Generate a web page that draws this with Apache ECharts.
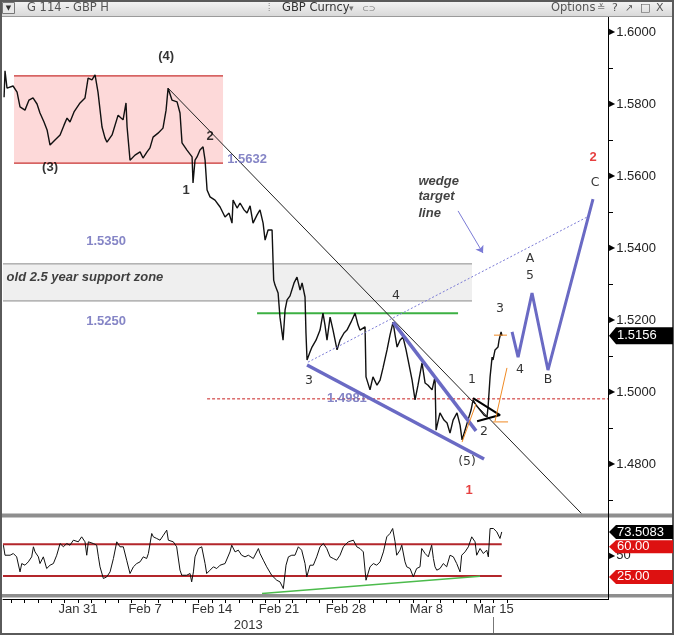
<!DOCTYPE html>
<html><head><meta charset="utf-8">
<script src="https://cdn.jsdelivr.net/npm/echarts@6/dist/echarts.min.js"></script>
<style>html,body{margin:0;padding:0;background:#fff}#c{width:674px;height:636px}</style>
</head><body><div id="c"></div>
<script>
// ---------- DATA (x = trading days from Jan 31, 2013) ----------
const priceDay = [-5.52,-5.45,-5.30,-4.85,-4.55,-4.33,-3.96,-3.66,-3.36,-3.06,
-2.84,-2.54,-2.31,-2.09,-1.72,-1.34,-1.04,-0.82,-0.60,-0.30,
0.15,0.52,0.75,1.04,1.27,1.49,1.79,2.01,2.16,2.54,
2.99,3.21,3.36,3.58,3.66,3.88,4.25,4.63,4.85,5.15,
5.37,5.60,5.97,6.34,6.57,6.72,7.01,7.39,7.61,7.76,
8.13,8.51,8.58,8.73,8.88,9.10,9.33,9.48,9.63,9.85,
10.22,10.60,10.97,11.27,11.49,11.57,11.87,12.09,12.39,12.61,
12.84,13.06,13.36,13.58,13.81,13.96,14.18,14.48,14.55,14.60,
14.70,14.93,15.07,15.30,15.45,15.60,15.82,16.12,16.34,16.57,
16.72,16.94,17.01,17.09,17.31,17.46,17.76,18.06,18.28,18.43,
18.58,18.81,19.03,19.33,19.55,19.85,20.07,20.37,20.67,20.90,
21.04,21.42,21.49,21.79,22.01,22.31,22.54,22.76,23.06,23.28,
23.51,23.66,23.81,24.03,24.25,24.48,24.63,24.93,25.15,25.37,
25.67,25.90,26.12,26.42,26.64,26.72,27.01,27.31,27.54,27.76,
27.99,28.28,28.51,28.66,28.88,29.10,29.33,29.48,29.70,30.00,
30.30,30.52,30.60,30.75,30.90,30.97,31.12,31.34,31.42,31.57,31.64];
const priceVal = [1.5819,1.5892,1.5844,1.5850,1.5833,1.5792,1.5783,1.5811,1.5817,1.5800,
1.5775,1.5750,1.5728,1.5686,1.5700,1.5714,1.5742,1.5761,1.5750,1.5778,
1.5803,1.5817,1.5872,1.5867,1.5881,1.5833,1.5736,1.5706,1.5694,1.5714,
1.5769,1.5761,1.5756,1.5803,1.5736,1.5644,1.5658,1.5667,1.5650,1.5667,
1.5678,1.5708,1.5719,1.5733,1.5783,1.5844,1.5811,1.5806,1.5775,1.5692,
1.5672,1.5653,1.5581,1.5644,1.5653,1.5672,1.5681,1.5644,1.5561,1.5542,
1.5533,1.5514,1.5486,1.5497,1.5469,1.5533,1.5511,1.5525,1.5506,1.5497,
1.5517,1.5469,1.5492,1.5506,1.5469,1.5422,1.5450,1.5450,1.5367,1.5311,
1.5297,1.5275,1.5208,1.5144,1.5228,1.5256,1.5267,1.5303,1.5319,1.5283,
1.5303,1.5264,1.5164,1.5089,1.5111,1.5125,1.5144,1.5172,1.5219,1.5186,
1.5144,1.5208,1.5172,1.5117,1.5144,1.5164,1.5172,1.5194,1.5219,1.5186,
1.5172,1.5181,1.5042,1.5006,1.5042,1.5019,1.5033,1.5067,1.5117,1.5158,
1.5194,1.5158,1.5125,1.5144,1.5153,1.5117,1.5089,1.5033,1.4978,1.5019,
1.5081,1.5025,1.5019,1.5006,1.5042,1.4894,1.4942,1.4922,1.4914,1.4886,
1.4922,1.4942,1.4908,1.4867,1.4894,1.4922,1.4950,1.4978,1.4964,1.4950,
1.4936,1.4931,1.4958,1.5042,1.5097,1.5089,1.5117,1.5125,1.5144,1.5167,1.5156];

const rsiDay = [-5.57,-5.45,-5.32,-5.07,-4.83,-4.58,-4.33,-4.20,-3.96,-3.71,
-3.46,-3.33,-3.21,-2.96,-2.84,-2.59,-2.34,-2.09,-1.84,-1.59,
-1.34,-1.09,-0.85,-0.60,-0.35,0.02,0.27,0.52,0.65,0.77,
1.14,1.39,1.52,1.64,1.89,2.14,2.39,2.64,2.89,3.13,
3.38,3.63,3.88,4.13,4.38,4.63,4.87,5.12,5.25,5.50,
5.62,5.87,6.12,6.37,6.62,6.74,7.11,7.36,7.61,7.74,
8.11,8.36,8.48,8.61,8.73,8.98,9.23,9.48,9.60,9.85,
10.10,10.35,10.60,10.97,11.34,11.47,11.72,11.96,12.21,12.46,
12.71,13.08,13.46,13.58,13.83,14.08,14.45,14.58,14.83,15.07,
15.32,15.52,15.70,15.95,16.19,16.44,16.69,16.94,17.07,17.31,
17.56,17.81,18.06,18.31,18.56,18.81,19.05,19.30,19.55,
19.80,20.17,20.55,20.80,21.04,21.29,21.49,21.79,22.04,22.29,
22.54,22.79,23.04,23.28,23.48,23.66,23.78,24.03,24.16,24.40,
24.53,24.78,25.02,25.27,25.52,25.65,25.90,26.14,26.39,26.52,
26.64,26.77,27.01,27.26,27.51,27.76,28.01,28.26,28.51,28.63,
28.88,29.13,29.38,29.63,29.75,30.00,30.25,30.50,30.62,30.75,
31.00,31.25,31.49,31.62];
const rsiVal = [58.9,47.8,49.7,47.8,49.7,46.0,29.4,38.6,36.8,40.5,
46.0,57.1,51.5,46.0,38.6,46.0,33.1,36.8,38.6,47.8,
60.7,57.1,60.7,58.9,64.4,62.6,68.1,62.6,47.8,62.6,
60.7,58.9,46.0,35.0,22.1,23.9,29.4,44.2,62.6,57.1,
57.1,42.3,27.6,35.0,38.6,40.5,46.0,44.2,49.7,71.8,
68.1,66.3,64.4,69.9,75.5,64.4,62.6,57.1,31.3,25.7,
25.7,27.6,18.4,29.4,46.0,55.2,57.1,38.6,27.6,31.3,
35.0,33.1,36.8,38.6,51.5,58.9,51.5,53.4,47.8,46.0,
47.8,44.2,55.2,49.7,42.3,35.0,25.7,23.9,20.2,18.4,
11.0,36.8,46.0,47.8,47.8,57.1,53.4,38.6,23.9,36.8,
36.8,46.0,57.1,60.7,55.2,46.0,44.2,42.3,47.8,
57.1,62.6,64.4,57.1,55.2,51.5,20.2,35.0,38.6,36.8,
40.5,51.5,68.1,71.8,77.3,62.6,47.8,53.4,58.9,40.5,
35.0,33.1,23.9,33.1,35.0,55.2,49.7,46.0,58.9,44.2,
35.0,31.3,33.1,38.6,35.0,47.8,46.0,38.6,29.4,47.8,
51.5,57.1,68.1,62.6,47.8,55.2,49.7,53.4,46.0,77.3,
77.3,73.6,66.3,73.5];

const xTickDays = [0,5,10,15,20,26,31];
const xTickLabels = ['Jan 31','Feb 7','Feb 14','Feb 21','Feb 28','Mar 8','Mar 15'];
const yearLabel = '2013';
const yTickVals = [1.48,1.50,1.52,1.54,1.56,1.58,1.60];
const yMinorVals = [1.47,1.49,1.51,1.53,1.55,1.57,1.59];
const lastPrice = 1.5156;
const rsiLast = 73.5083;
const rsiLevels = [60, 25];
const rsiMid = 50;

// annotation geometry (data units)
const pinkBoxDays = [-4.78, 10.82], pinkBoxPrices = [1.5636, 1.5878];
const grayBoxDays = [-5.6, 29.40], grayBoxPrices = [1.5253, 1.5356];
const redDashDays = [9.63, 39.55], redDashPrice = 1.4981;
const greenDays = [13.36, 28.36], greenPrice = 1.5219;
const trendDays = [6.72, 37.61], trendPrices = [1.5844, 1.4661];
const wedgeLowDays = [17.09, 30.30], wedgeLowPrices = [1.5075, 1.4814];
const wedgeUpDays = [23.51, 29.70], wedgeUpPrices = [1.5194, 1.4892];
const targetDays = [17.16, 37.99], targetPrices = [1.5083, 1.5486];
const arrowDays = [28.36, 30.22], arrowPrices = [1.5503, 1.5386];
const pennantDays = [29.48, 31.49, 29.78], pennantPrices = [1.4983, 1.4936, 1.4919];
const orange1Days = [28.66, 29.70], orange1Prices = [1.4861, 1.4967];
const orange2Days = [31.12, 32.01], orange2Prices = [1.4919, 1.5067];
const orangeH1Days = [31.04, 32.01], orangeH1Price = 1.5158;
const orangeH2Days = [30.97, 32.09], orangeH2Price = 1.4917;
const projDays = [32.39, 32.84, 33.88, 35.07, 38.43];
const projPrices = [1.5167, 1.5097, 1.5275, 1.5061, 1.5536];
const rsiLineDays = [-5.6, 31.62];
const rsiGreenDays = [13.73, 30.0], rsiGreenVals = [5.5, 24.6];

const waveLabels = ['(4)','(3)','2','1','3','4','1','2','(5)','3','A','5','4','B','C'];
const waveDays = [6.57,-2.09,9.85,8.06,17.24,23.73,29.40,30.30,29.03,31.49,33.73,33.73,32.99,35.07,38.58];
const wavePrices = [1.5931,1.5625,1.5711,1.5561,1.5031,1.5267,1.5033,1.4889,1.4806,1.5231,1.5369,1.5322,1.5061,1.5033,1.5581];
const waveBold = [1,1,1,1,0,0,0,0,0,0,0,0,0,0,0];
const redLabels = ['1','2'], redDays = [29.18, 38.43], redPrices = [1.4728, 1.5653];
const levelLabels = ['1.5632','1.5350','1.5250','1.4981'];
const levelDays = [12.61, 2.09, 2.09, 20.07];
const levelPrices = [1.5647, 1.5417, 1.5197, 1.4983];
const noteLabels = ['old 2.5 year support zone','wedge','target','line'];
const noteDays = [-5.37, 25.37, 25.37, 25.37];
const notePrices = [1.5319, 1.5586, 1.5542, 1.5497];

// ---------- CHART ----------
const F = 'Liberation Sans';
const xMin = -5.6, xMax = 39.55;
const chart = echarts.init(document.getElementById('c'));
const zip = (a, b) => a.map((v, i) => [v, Array.isArray(b) ? b[i] : b]);
function seg(days, vals, style, g, extra) {
  return Object.assign({type:'line', xAxisIndex:g||0, yAxisIndex:g||0, data:zip(days, vals),
    symbol:'none', silent:true, animation:false, lineStyle:style, z:4}, extra||{});
}
function texts(arr, days, vals, lab) {
  return arr.map((t, i) => ({value:[days[i], vals[i]],
    label:Object.assign({show:true, formatter:t}, typeof lab === 'function' ? lab(i) : lab)}));
}
const blue = '#6a6ac4';
const annot = [].concat(
  texts(waveLabels, waveDays, wavePrices, i => ({fontFamily: waveBold[i] ? F : 'DejaVu Sans', fontSize: waveBold[i] ? 13 : 12.5, fontWeight: waveBold[i] ? 'bold' : 'normal', color:'#000', position:'inside'})),
  texts(redLabels, redDays, redPrices, {fontFamily:F, fontSize:13, fontWeight:'bold', color:'#e01010', position:'inside'}),
  texts(levelLabels, levelDays, levelPrices, {fontFamily:F, fontSize:13, fontWeight:'bold', color:'#6666b8', position:'inside'}),
  texts(noteLabels, noteDays, notePrices, {fontFamily:F, fontSize:13, fontWeight:'bold', fontStyle:'italic', color:'#111', position:'right', distance:0})
);

const option = {
  animation:false,
  backgroundColor:'#fff',
  grid:[{left:3, top:14, width:605, height:499}, {left:3, top:517, width:605, height:77}],
  xAxis:[
    {gridIndex:0, type:'value', min:xMin, max:xMax, show:false},
    {gridIndex:1, type:'value', min:xMin, max:xMax, position:'bottom', offset:5,
      axisLine:{onZero:false, lineStyle:{color:'#000', width:1}},
      axisTick:{customValues:Array.from({length:38}, (_, i) => i - 5), length:4, lineStyle:{color:'#000'}},
      axisLabel:{customValues:xTickDays, formatter:v => xTickLabels[xTickDays.indexOf(Math.round(v))] || '',
        fontFamily:F, fontSize:13, color:'#333', margin:4},
      splitLine:{show:false}}
  ],
  yAxis:[
    {gridIndex:0, type:'value', position:'right', min:1.4664, max:1.605,
      axisLine:{show:true, onZero:false, lineStyle:{color:'#000'}},
      axisTick:{customValues:yMinorVals, length:5, lineStyle:{color:'#000'}},
      axisLabel:{customValues:yTickVals, formatter:v => '{t|▶}' + v.toFixed(4), margin:1,
        fontFamily:F, fontSize:13, color:'#222',
        rich:{t:{fontFamily:'DejaVu Sans', fontSize:8, color:'#000', padding:[0,1,0,0]}}},
      splitLine:{show:false}},
    {gridIndex:1, type:'value', position:'right', min:5, max:90,
      axisLine:{show:true, onZero:false, lineStyle:{color:'#000'}},
      axisTick:{show:false},
      axisLabel:{customValues:[rsiMid], formatter:v => '{t|▶}' + v, margin:1,
        fontFamily:F, fontSize:13, color:'#222', padding:[5,0,0,0],
        rich:{t:{fontFamily:'DejaVu Sans', fontSize:8, color:'#000', padding:[0,1,0,0]}}},
      splitLine:{show:false}}
  ],
  series:[
    {type:'line', xAxisIndex:0, yAxisIndex:0, data:[[pinkBoxDays[0], pinkBoxPrices[0]]], symbol:'none', lineStyle:{opacity:0}, silent:true, z:1,
      markArea:{silent:true, data:[
        [{coord:[pinkBoxDays[0], pinkBoxPrices[0]], itemStyle:{color:'#fdd9d9'}}, {coord:[pinkBoxDays[1], pinkBoxPrices[1]]}],
        [{coord:[grayBoxDays[0], grayBoxPrices[0]], itemStyle:{color:'#efefef'}}, {coord:[grayBoxDays[1], grayBoxPrices[1]]}]
      ]}},
    seg(pinkBoxDays, pinkBoxPrices[0], {color:'#c8312f', width:1.3}),
    seg(pinkBoxDays, pinkBoxPrices[1], {color:'#c8312f', width:1.3}),
    seg(grayBoxDays, grayBoxPrices[0], {color:'#8a8a8a', width:1}),
    seg(grayBoxDays, grayBoxPrices[1], {color:'#8a8a8a', width:1}),
    seg(redDashDays, redDashPrice, {color:'#c82020', width:1, type:[3,2]}),
    seg(greenDays, greenPrice, {color:'#3cb043', width:2}),
    {type:'line', xAxisIndex:0, yAxisIndex:0, data:zip(priceDay, priceVal), symbol:'none', silent:true,
      lineStyle:{color:'#111', width:1.4}, z:5},
    seg(trendDays, trendPrices, {color:'#222', width:1}, 0, {z:6}),
    seg(targetDays, targetPrices, {color:'#7b7bd6', width:1, type:[2,2]}, 0, {z:6}),
    seg(wedgeLowDays, wedgeLowPrices, {color:blue, width:3.5}, 0, {z:6}),
    seg(wedgeUpDays, wedgeUpPrices, {color:blue, width:3.5}, 0, {z:6}),
    seg(pennantDays, pennantPrices, {color:'#000', width:2}, 0, {z:7}),
    seg(orange1Days, orange1Prices, {color:'#f08a24', width:1}, 0, {z:7}),
    seg(orange2Days, orange2Prices, {color:'#f08a24', width:1}, 0, {z:7}),
    seg(orangeH1Days, orangeH1Price, {color:'#f08a24', width:1}, 0, {z:7}),
    seg(orangeH2Days, orangeH2Price, {color:'#f08a24', width:1}, 0, {z:7}),
    seg(projDays, projPrices, {color:blue, width:3}, 0, {z:6}),
    {type:'lines', coordinateSystem:'cartesian2d', xAxisIndex:0, yAxisIndex:0, silent:true, z:6,
      symbol:['none','arrow'], symbolSize:7,
      lineStyle:{color:'#7b7bd6', width:1, opacity:1},
      data:[{coords:zip(arrowDays, arrowPrices)}]},
    {type:'scatter', xAxisIndex:0, yAxisIndex:0, symbol:'circle', symbolSize:1, silent:true, z:10,
      itemStyle:{color:'rgba(0,0,0,0)'}, data:annot},
    // RSI panel
    seg(rsiLineDays, rsiLevels[0], {color:'#b3262b', width:2}, 1),
    seg(rsiLineDays, rsiLevels[1], {color:'#b3262b', width:2}, 1),
    seg(rsiGreenDays, rsiGreenVals, {color:'#4cbb4c', width:1.5}, 1),
    {type:'line', xAxisIndex:1, yAxisIndex:1, data:zip(rsiDay, rsiVal), symbol:'none', silent:true,
      lineStyle:{color:'#111', width:1}, z:5}
  ]
};
chart.setOption(option);

// ---------- tags and window chrome (positions from the chart's own scales) ----------
const yPx = (g, v) => chart.convertToPixel({yAxisIndex:g}, v);
const xPx = (g, v) => chart.convertToPixel({xAxisIndex:g}, v);
function tag(yc, text, fill, h) {
  h = h || 16;
  return [
    {type:'polygon', z:120, shape:{points:[[609, yc], [616, yc - h/2], [673, yc - h/2], [673, yc + h/2], [616, yc + h/2]]}, style:{fill:fill}},
    {type:'text', z:121, x:617, y:yc, style:{text:text, fill:'#fff', font:'13px "Liberation Sans"', verticalAlign:'middle'}}
  ];
}
const sepX = xPx(1, xTickDays[xTickDays.length - 1]);
const gridLeft = 3;
const els = [
  {type:'rect', z:100, shape:{x:0, y:513.5, width:674, height:4}, style:{fill:'#8e8e8e'}},
  {type:'rect', z:100, shape:{x:0, y:594, width:674, height:3.5}, style:{fill:'#8e8e8e'}},
  {type:'line', z:101, shape:{x1:608.5, y1:16, x2:608.5, y2:600}, style:{stroke:'#000', lineWidth:1}},
  {type:'line', z:101, shape:{x1:Math.round(sepX) + 0.5, y1:617, x2:Math.round(sepX) + 0.5, y2:633}, style:{stroke:'#777', lineWidth:1}},
  {type:'text', z:101, x:(gridLeft + sepX) / 2, y:625, style:{text:yearLabel, fill:'#333', font:'13px "Liberation Sans"', align:'center', verticalAlign:'middle'}},
  // title bar
  {type:'rect', z:102, shape:{x:0, y:0, width:674, height:16},
    style:{fill:new echarts.graphic.LinearGradient(0, 0, 0, 1, [{offset:0, color:'#f6f6f6'}, {offset:1, color:'#d9d9d9'}])}},
  {type:'line', z:103, shape:{x1:0, y1:16.5, x2:674, y2:16.5}, style:{stroke:'#9a9a9a'}},
  {type:'rect', z:103, shape:{x:2.5, y:2.5, width:12, height:11}, style:{fill:'#e8e8e8', stroke:'#777'}},
  {type:'text', z:104, x:8.5, y:8.5, style:{text:'▼', fill:'#333', font:'7px "DejaVu Sans"', align:'center', verticalAlign:'middle'}},
  {type:'text', z:104, x:27, y:8.5, style:{text:'G 114 - GBP H', fill:'#555', font:'11.5px "DejaVu Sans"', verticalAlign:'middle'}},
  {type:'text', z:104, x:268, y:8.5, style:{text:'⦙', fill:'#999', font:'11px "DejaVu Sans"', verticalAlign:'middle'}},
  {type:'text', z:104, x:282, y:8.5, style:{text:'GBP Curncy', fill:'#333', font:'11.5px "DejaVu Sans"', verticalAlign:'middle'}},
  {type:'text', z:104, x:349, y:8.5, style:{text:'▾', fill:'#777', font:'9px "DejaVu Sans"', verticalAlign:'middle'}},
  {type:'text', z:104, x:362, y:8.5, style:{text:'⊂⊃', fill:'#777', font:'8px "DejaVu Sans"', verticalAlign:'middle'}},
  {type:'text', z:104, x:551, y:8.5, style:{text:'Options', fill:'#555', font:'11.5px "DejaVu Sans"', verticalAlign:'middle'}},
  {type:'text', z:104, x:597, y:8.5, style:{text:'≚', fill:'#777', font:'10px "DejaVu Sans"', verticalAlign:'middle'}},
  {type:'text', z:104, x:612, y:8.5, style:{text:'?', fill:'#555', font:'11px "DejaVu Sans"', verticalAlign:'middle'}},
  {type:'text', z:104, x:625, y:8.5, style:{text:'↗', fill:'#555', font:'10px "DejaVu Sans"', verticalAlign:'middle'}},
  {type:'text', z:104, x:640, y:8.5, style:{text:'□', fill:'#555', font:'11px "DejaVu Sans"', verticalAlign:'middle'}},
  {type:'text', z:104, x:656, y:8.5, style:{text:'X', fill:'#555', font:'11px "DejaVu Sans"', verticalAlign:'middle'}},
  // frame
  {type:'rect', z:110, shape:{x:1, y:1, width:672, height:633}, style:{fill:null, stroke:'#5a5a5a', lineWidth:2}}
].concat(
  tag(yPx(0, lastPrice), lastPrice.toFixed(4), '#000', 17),
  tag(yPx(1, rsiLevels[1]) + 1, rsiLevels[1].toFixed(2), '#dd1111', 14),
  tag(yPx(1, rsiLevels[0]) + 2.5, rsiLevels[0].toFixed(2), '#dd1111', 13),
  tag(yPx(1, rsiLast), rsiLast.toFixed(4), '#000', 14)
);
chart.setOption({graphic:{elements:els}});
</script></body></html>
